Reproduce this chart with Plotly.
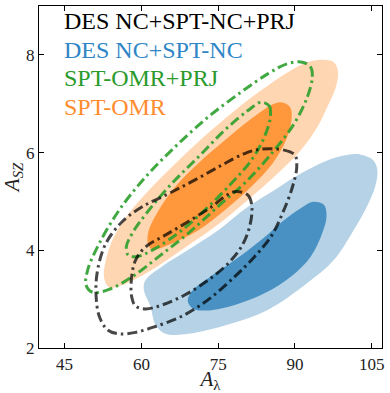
import plotly.graph_objects as go

# contour outlines (A_lambda, A_SZ)
omr_outer_x = [95.0, 97.58, 98.42, 97.9, 96.61, 94.35, 91.13, 86.61, 80.81, 74.35, 67.9, 61.45, 56.29, 53.71,
               52.74, 53.06, 54.68, 57.58, 62.1, 67.26, 73.71, 79.52, 84.68, 89.19, 92.42]
omr_outer_y = [7.9, 7.85, 7.65, 7.31, 7.0, 6.52, 6.05, 5.57, 5.03, 4.48, 4.01, 3.56, 3.29, 3.24,
               3.43, 3.8, 4.28, 4.76, 5.3, 5.84, 6.46, 6.97, 7.37, 7.68, 7.85]
omr_inner_x = [87.26, 89.06, 89.32, 88.23, 85.65, 81.45, 76.29, 71.13, 65.97, 62.1, 61.26, 61.45, 63.39,
               66.61, 71.13, 76.29, 81.45, 85.32]
omr_inner_y = [7.03, 6.93, 6.66, 6.25, 5.78, 5.3, 4.82, 4.41, 4.14, 4.02, 4.14, 4.41, 4.82,
               5.3, 5.78, 6.25, 6.69, 6.97]

nc_outer_x = [102.74, 105.32, 106.1, 105.65, 104.03, 101.45, 97.58, 92.42, 84.68, 76.94, 69.19, 64.68, 62.74,
              61.77, 60.48, 60.81, 64.03, 69.19, 75.0, 80.81, 85.97, 91.13, 96.29, 100.16]
nc_outer_y = [5.96, 5.84, 5.64, 5.3, 4.89, 4.41, 3.8, 3.33, 2.78, 2.48, 2.29, 2.29, 2.48,
              2.85, 3.19, 3.39, 3.67, 4.01, 4.41, 4.89, 5.23, 5.57, 5.84, 5.95]
nc_inner_x = [93.39, 95.65, 96.16, 95.32, 93.06, 89.19, 84.03, 78.23, 73.06, 70.16, 69.06, 69.84, 73.06,
              78.23, 83.39, 87.9, 91.13]
nc_inner_y = [4.99, 4.93, 4.69, 4.35, 3.87, 3.46, 3.12, 2.88, 2.77, 2.8, 2.95, 3.16, 3.43,
              3.8, 4.21, 4.62, 4.86]

omr_prj_outer_x = [91.45, 93.06, 93.39, 92.42, 89.84, 85.97, 80.81, 75.0, 69.19, 63.39, 58.23, 53.71, 50.48,
                   49.19, 49.52, 51.77, 55.65, 60.81, 66.61, 73.06, 79.52, 84.68, 88.55]
omr_prj_outer_y = [7.85, 7.75, 7.54, 7.14, 6.59, 6.05, 5.44, 4.9, 4.35, 3.87, 3.46, 3.2, 3.14,
                   3.29, 3.6, 4.14, 4.82, 5.5, 6.12, 6.73, 7.24, 7.61, 7.82]
omr_prj_inner_x = [83.39, 85.0, 85.19, 84.03, 81.45, 77.58, 73.06, 67.9, 62.74, 59.19, 57.45, 57.06, 58.23,
                   61.45, 65.97, 71.13, 76.29, 80.81]
omr_prj_inner_y = [7.03, 6.95, 6.73, 6.32, 5.84, 5.37, 4.89, 4.41, 4.04, 3.87, 3.9, 4.07, 4.35,
                   4.82, 5.37, 5.91, 6.46, 6.86]

nc_prj_outer_x = [83.39, 87.9, 89.97, 90.35, 89.52, 87.58, 85.32, 82.1, 78.23, 73.06, 67.9, 62.74, 58.87,
                  55.65, 53.39, 51.77, 51.13, 51.45, 53.06, 56.29, 60.16, 65.32, 70.48, 75.65, 80.16]
nc_prj_outer_y = [6.07, 6.05, 5.95, 5.71, 5.3, 4.76, 4.28, 3.87, 3.46, 2.99, 2.65, 2.44, 2.32,
                  2.29, 2.37, 2.65, 3.12, 3.6, 4.14, 4.59, 4.89, 5.16, 5.44, 5.74, 5.98]
nc_prj_inner_x = [78.23, 80.81, 81.58, 81.13, 79.52, 76.94, 73.06, 68.55, 64.03, 60.81, 58.87, 58.1, 58.1,
                  58.87, 60.81, 64.68, 69.19, 73.71, 76.29]
nc_prj_inner_y = [5.2, 5.13, 4.89, 4.48, 4.07, 3.73, 3.39, 3.09, 2.88, 2.8, 2.86, 3.05, 3.46,
                  3.8, 4.07, 4.31, 4.59, 4.89, 5.1]

legend_labels = ["DES NC+SPT-NC+PRJ", "DES NC+SPT-NC", "SPT-OMR+PRJ", "SPT-OMR"]
legend_colors = ["#000000", "#2f86c6", "#2a9a2a", "#ff8c2e"]

SERIF = "Liberation Serif, Times New Roman, serif"


def closed(xs, ys):
    return xs + xs[:1], ys + ys[:1]


fig = go.Figure()

fills = [
    (omr_outer_x, omr_outer_y, "rgba(255,127,14,0.32)"),
    (omr_inner_x, omr_inner_y, "rgba(255,127,14,0.72)"),
    (nc_outer_x, nc_outer_y, "rgba(31,119,180,0.33)"),
    (nc_inner_x, nc_inner_y, "rgba(31,119,180,0.72)"),
]
for xs, ys, col in fills:
    cx, cy = closed(xs, ys)
    fig.add_trace(go.Scatter(x=cx, y=cy, mode="lines", fill="toself", fillcolor=col,
                             line=dict(width=0, shape="spline", smoothing=1), hoverinfo="skip"))

lines = [
    (omr_prj_outer_x, omr_prj_outer_y, "rgba(44,160,44,0.9)"),
    (omr_prj_inner_x, omr_prj_inner_y, "rgba(44,160,44,0.9)"),
    (nc_prj_outer_x, nc_prj_outer_y, "rgba(0,0,0,0.72)"),
    (nc_prj_inner_x, nc_prj_inner_y, "rgba(0,0,0,0.72)"),
]
for xs, ys, col in lines:
    cx, cy = closed(xs, ys)
    fig.add_trace(go.Scatter(x=cx, y=cy, mode="lines",
                             line=dict(color=col, width=3, dash="10px,4px,2.5px,4px",
                                       shape="spline", smoothing=1),
                             hoverinfo="skip"))

legend_y = [0.956, 0.872, 0.790, 0.706]
for lab, col, yy in zip(legend_labels, legend_colors, legend_y):
    fig.add_annotation(x=0.066, y=yy, xref="paper", yref="paper", text=lab, showarrow=False,
                       xanchor="left", yanchor="middle",
                       font=dict(family=SERIF, size=24, color=col))

axis_style = dict(showline=True, linecolor="black", linewidth=1.3, mirror="ticks",
                  ticks="inside", ticklen=5, tickcolor="black", tickwidth=1,
                  showgrid=False, zeroline=False,
                  tickfont=dict(family=SERIF, size=17, color="#222"))

fig.update_xaxes(range=[40, 107], tickvals=[45, 60, 75, 90, 105],
                 title=dict(text="<i>A</i><sub>λ</sub>", standoff=0,
                            font=dict(family=SERIF, size=21, color="#222")),
                 **axis_style)
fig.update_yaxes(range=[2, 9], tickvals=[2, 4, 6, 8],
                 title=dict(text="<i>A</i><sub><i>SZ</i></sub>", standoff=6,
                            font=dict(family=SERIF, size=21, color="#222")),
                 **axis_style)

fig.update_layout(width=390, height=393, showlegend=False,
                  margin=dict(l=36, r=8, t=5, b=45),
                  font=dict(family=SERIF),
                  plot_bgcolor="white", paper_bgcolor="white")

fig.write_html("out.html", config={"displayModeBar": False},
               post_script="document.body.style.margin='0';")
